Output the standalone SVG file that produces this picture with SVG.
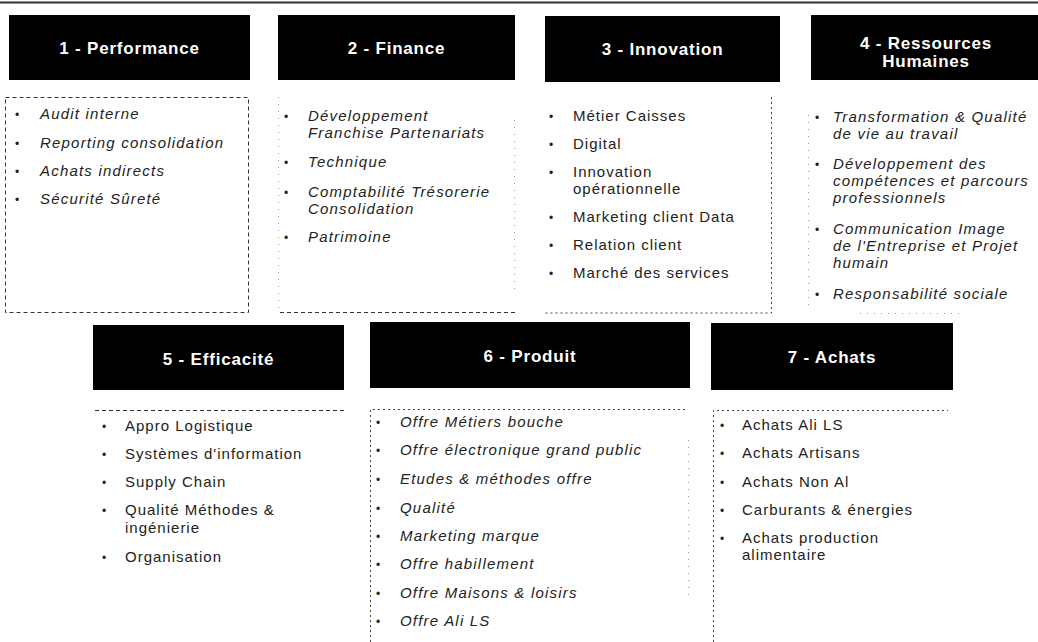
<svg xmlns="http://www.w3.org/2000/svg" width="1038" height="642" viewBox="0 0 1038 642">
  <style>
    .hdr { fill: #000; }
    .hdr-t { font-family: "Liberation Sans", Arial, sans-serif; font-weight: bold; font-size: 17px; letter-spacing: 0.8px; fill: #fff; text-anchor: middle; }
    .it { font-family: "Liberation Sans", Arial, sans-serif; font-size: 15px; letter-spacing: 1px; fill: #222; }
    .it.em { font-style: italic; letter-spacing: 1.2px; }
    .bul { font-family: "Liberation Sans", Arial, sans-serif; font-size: 12px; fill: #222; }
    .dash { fill: none; stroke: #333; stroke-width: 1; stroke-dasharray: 4 3; }
    .dot { fill: none; stroke: #444; stroke-width: 1; stroke-dasharray: 2 3; }
    .faint { fill: none; stroke: #999; stroke-width: 1; stroke-dasharray: 1 6; }
  </style>

  <!-- page rule -->
  <line x1="0" y1="2.5" x2="1038" y2="2.5" stroke="#333" stroke-width="2"/>

  <g id="connectors"/>

  <!-- 1 - Performance -->
  <g id="node-performance">
    <rect class="hdr" x="9" y="15" width="241" height="65"/>
    <text class="hdr-t" x="129.5" y="54">1 - Performance</text>
    <rect class="dash" x="5.5" y="97.5" width="243" height="215"/>
    <g class="bul"><text x="15" y="119">•</text><text x="15" y="148">•</text><text x="15" y="176">•</text><text x="15" y="204">•</text></g>
    <text class="it em" x="40" y="119">Audit interne</text>
    <text class="it em" x="40" y="148">Reporting consolidation</text>
    <text class="it em" x="40" y="176">Achats indirects</text>
    <text class="it em" x="40" y="204">Sécurité Sûreté</text>
  </g>

  <!-- 2 - Finance -->
  <g id="node-finance">
    <rect class="hdr" x="278" y="15" width="237" height="65"/>
    <text class="hdr-t" x="396.5" y="54">2 - Finance</text>
    <path class="faint" d="M278.5 97 V312.5"/>
    <path class="faint" d="M514.5 120 V290"/>
    <path class="dash" d="M280 312.5 H515"/>
    <g class="bul"><text x="284" y="121">•</text><text x="284" y="167">•</text><text x="284" y="197">•</text><text x="284" y="242">•</text></g>
    <text class="it em" x="308" y="121">Développement</text>
    <text class="it em" x="308" y="138">Franchise Partenariats</text>
    <text class="it em" x="308" y="167">Technique</text>
    <text class="it em" x="308" y="197">Comptabilité Trésorerie</text>
    <text class="it em" x="308" y="214">Consolidation</text>
    <text class="it em" x="308" y="242">Patrimoine</text>
  </g>

  <!-- 3 - Innovation -->
  <g id="node-innovation">
    <rect class="hdr" x="545" y="16" width="235" height="66"/>
    <text class="hdr-t" x="662.5" y="55">3 - Innovation</text>
    <path class="dot" d="M771.5 97 V313 H543"/>
    <g class="bul"><text x="549" y="121">•</text><text x="549" y="149">•</text><text x="549" y="177">•</text><text x="549" y="222">•</text><text x="549" y="250">•</text><text x="549" y="278">•</text></g>
    <text class="it" x="573" y="121">Métier Caisses</text>
    <text class="it" x="573" y="149">Digital</text>
    <text class="it" x="573" y="177">Innovation</text>
    <text class="it" x="573" y="194">opérationnelle</text>
    <text class="it" x="573" y="222">Marketing client Data</text>
    <text class="it" x="573" y="250">Relation client</text>
    <text class="it" x="573" y="278">Marché des services</text>
  </g>

  <!-- 4 - Ressources Humaines -->
  <g id="node-rh">
    <rect class="hdr" x="811" y="15" width="227" height="65"/>
    <text class="hdr-t" x="926" y="49">4 - Ressources</text>
    <text class="hdr-t" x="926" y="67">Humaines</text>
    <path class="faint" d="M808.5 115 V305"/>
    <path class="faint" d="M860 313.5 H960"/>
    <g class="bul"><text x="815" y="122">•</text><text x="815" y="169">•</text><text x="815" y="234">•</text><text x="815" y="299">•</text></g>
    <text class="it em" x="833" y="122">Transformation &amp; Qualité</text>
    <text class="it em" x="833" y="139">de vie au travail</text>
    <text class="it em" x="833" y="169">Développement des</text>
    <text class="it em" x="833" y="186">compétences et parcours</text>
    <text class="it em" x="833" y="203">professionnels</text>
    <text class="it em" x="833" y="234">Communication Image</text>
    <text class="it em" x="833" y="251">de l'Entreprise et Projet</text>
    <text class="it em" x="833" y="268">humain</text>
    <text class="it em" x="833" y="299">Responsabilité sociale</text>
  </g>

  <!-- 5 - Efficacité -->
  <g id="node-efficacite">
    <rect class="hdr" x="93" y="325" width="251" height="65"/>
    <text class="hdr-t" x="218.5" y="365">5 - Efficacité</text>
    <path class="dash" d="M95 410.5 H345"/>
    <g class="bul"><text x="102" y="431">•</text><text x="102" y="459">•</text><text x="102" y="487">•</text><text x="102" y="515">•</text><text x="102" y="562">•</text></g>
    <text class="it" x="125" y="431">Appro Logistique</text>
    <text class="it" x="125" y="459">Systèmes d'information</text>
    <text class="it" x="125" y="487">Supply Chain</text>
    <text class="it" x="125" y="515">Qualité Méthodes &amp;</text>
    <text class="it" x="125" y="533">ingénierie</text>
    <text class="it" x="125" y="562">Organisation</text>
  </g>

  <!-- 6 - Produit -->
  <g id="node-produit">
    <rect class="hdr" x="370" y="322" width="320" height="66"/>
    <text class="hdr-t" x="530" y="362">6 - Produit</text>
    <path class="dot" d="M370.5 642 V409.5 H688"/>
    <path class="faint" d="M688.5 440 V600"/>
    <g class="bul"><text x="376" y="427">•</text><text x="376" y="455">•</text><text x="376" y="484">•</text><text x="376" y="513">•</text><text x="376" y="541">•</text><text x="376" y="569">•</text><text x="376" y="598">•</text><text x="376" y="626">•</text></g>
    <text class="it em" x="400" y="427">Offre Métiers bouche</text>
    <text class="it em" x="400" y="455">Offre électronique grand public</text>
    <text class="it em" x="400" y="484">Etudes &amp; méthodes offre</text>
    <text class="it em" x="400" y="513">Qualité</text>
    <text class="it em" x="400" y="541">Marketing marque</text>
    <text class="it em" x="400" y="569">Offre habillement</text>
    <text class="it em" x="400" y="598">Offre Maisons &amp; loisirs</text>
    <text class="it em" x="400" y="626">Offre Ali LS</text>
  </g>

  <!-- 7 - Achats -->
  <g id="node-achats">
    <rect class="hdr" x="711" y="323" width="242" height="67"/>
    <text class="hdr-t" x="832" y="363">7 - Achats</text>
    <path class="dot" d="M713.5 642 V410.5 H948"/>
    <g class="bul"><text x="720" y="430">•</text><text x="720" y="458">•</text><text x="720" y="487">•</text><text x="720" y="515">•</text><text x="720" y="543">•</text></g>
    <text class="it" x="742" y="430">Achats Ali LS</text>
    <text class="it" x="742" y="458">Achats Artisans</text>
    <text class="it" x="742" y="487">Achats Non Al</text>
    <text class="it" x="742" y="515">Carburants &amp; énergies</text>
    <text class="it" x="742" y="543">Achats production</text>
    <text class="it" x="742" y="560">alimentaire</text>
  </g>
</svg>
